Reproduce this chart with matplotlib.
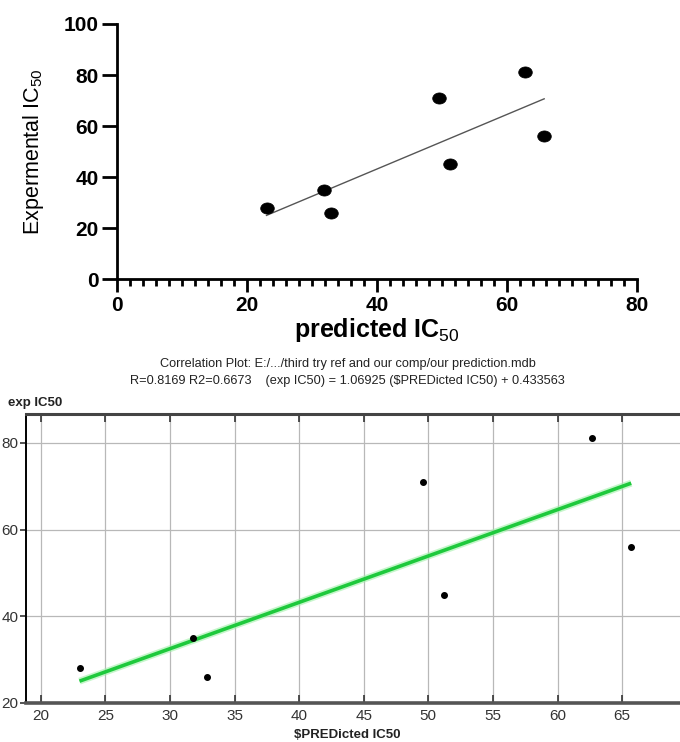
import numpy as np
import matplotlib
matplotlib.use("Agg")
import matplotlib.pyplot as plt

plt.rcParams['font.family'] = ['Liberation Sans', 'DejaVu Sans']
plt.rcParams['mathtext.fontset'] = 'custom'
plt.rcParams['mathtext.rm'] = 'Liberation Sans'
plt.rcParams['mathtext.bf'] = 'Liberation Sans:bold'

predicted = [23.0, 31.8, 32.9, 49.6, 51.2, 62.7, 65.7]
experimental = [28.0, 35.0, 26.0, 71.0, 45.0, 81.0, 56.0]
slope = 1.06925
intercept = 0.433563
title1 = "Correlation Plot: E:/.../third try ref and our comp/our prediction.mdb"
title2 = r"R=0.8169 R2=0.6673    (exp IC50) = 1.06925 (\$PREDicted IC50) + 0.433563"

fit_x = np.array([min(predicted), max(predicted)])
fit_y = slope * fit_x + intercept

# ellipse marker, a bit wider than tall
t = np.linspace(0, 2 * np.pi, 40)
ell = list(zip(np.cos(t), 0.82 * np.sin(t)))

fig = plt.figure(figsize=(6.8, 7.42), dpi=100)

# ---- top chart
ax = fig.add_axes([0.172, 0.6236, 0.765, 0.3441])
ax.plot(fit_x, fit_y, color='#555555', lw=1.0)
ax.plot(predicted, experimental, ls='none', marker=ell, ms=9.8, mew=0.5, color='black', clip_on=False)
ax.set_xlim(0, 80)
ax.set_ylim(0, 100)
ax.spines['top'].set_visible(False)
ax.spines['right'].set_visible(False)
for s in ['left', 'bottom']:
    ax.spines[s].set_linewidth(2)
ax.set_xticks([0, 20, 40, 60, 80])
ax.set_xticks(np.arange(0, 81, 2), minor=True)
ax.set_yticks([0, 20, 40, 60, 80, 100])
ax.tick_params(axis='x', which='major', length=9, width=2, labelsize=15, pad=3)
ax.tick_params(axis='x', which='minor', length=5, width=2)
ax.tick_params(axis='y', which='major', length=11, width=2, labelsize=15, pad=2)
for lab in ax.get_xticklabels() + ax.get_yticklabels():
    lab.set_fontweight('bold')
ax.set_xlabel(r"predicted IC$_{50}$", fontsize=18, fontweight='bold', labelpad=1)
ax.set_ylabel(r"Expermental IC$_{50}$", fontsize=15.5, labelpad=13)

# ---- bottom chart
bx = fig.add_axes([0.0375, 0.0519, 0.9625, 0.3897])
bx.grid(True, color='#b8b8b8', lw=0.9)
bx.set_axisbelow(True)
bx.plot(fit_x, fit_y, color='#9ff0a8', lw=5, solid_capstyle='butt', alpha=0.6)
bx.plot(fit_x, fit_y, color='#1ec93c', lw=2.6, solid_capstyle='butt')
bx.plot(predicted, experimental, ls='none', marker='o', ms=4, color='black')
bx.set_xlim(18.82, 69.48)
bx.set_ylim(19.88, 86.56)
bx.set_xticks(np.arange(20, 66, 5))
bx.set_yticks([20, 40, 60, 80])
bx.spines['right'].set_visible(False)
bx.spines['top'].set_linewidth(2.2)
bx.spines['top'].set_color('#444444')
bx.spines['bottom'].set_linewidth(2.6)
bx.spines['bottom'].set_color('#555555')
bx.spines['left'].set_linewidth(1.4)
bx.tick_params(axis='x', which='major', top=True, direction='in', length=6, width=1.2,
               labelsize=11, pad=4, color='#333333', labelcolor='#333333')
bx.tick_params(axis='y', which='major', length=4, width=1.2, labelsize=11, pad=1,
               color='#333333', labelcolor='#333333')

fig.text(0.511, 0.509, title1, ha='center', va='center', fontsize=9.2, color='#222222')
fig.text(0.511, 0.486, title2, ha='center', va='center', fontsize=9.2, color='#222222')
fig.text(0.012, 0.457, "exp IC50", ha='left', va='center', fontsize=9.5,
         fontweight='bold', color='#222222')
fig.text(0.51, 0.010, r"\$PREDicted IC50", ha='center', va='center', fontsize=9.5,
         fontweight='bold', color='#222222')

fig.savefig("out.png", dpi=100)
